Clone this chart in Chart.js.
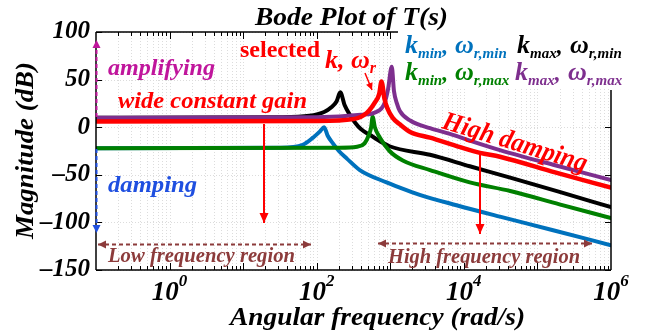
<!DOCTYPE html>
<html>
<head>
<meta charset="utf-8">
<script src="https://cdn.jsdelivr.net/npm/chart.js@4.4.0/dist/chart.umd.min.js"></script>
<style>
  html, body { margin: 0; padding: 0; background: #fff; }
</style>
</head>
<body>
<canvas id="myChart" width="648" height="333"></canvas>
<script>
// angular frequency (rad/s) and magnitude (dB)
var wRed    = [0.1, 100, 316, 479, 617, 708, 759, 832, 912, 1072, 1349, 1862, 3467, 8913, 16596, 30903, 173780, 1e6];
var dbRed   = [6, 6.5, 8.5, 15, 26, 35, 48, 30, 20, 10, 3, -5, -11, -21, -27, -31, -47.5, -63.5];

var wPurple  = [0.1, 100, 398, 646, 832, 933, 1047, 1122, 1230, 1349, 1862, 3467, 6457, 12023, 30903, 173780, 1e6];
var dbPurple = [10, 10.5, 13, 16, 25, 40, 63.5, 38, 25, 17, 7, -1, -7, -14, -24, -40, -55.5];

var wGreen  = [0.1, 200, 355, 447, 513, 550, 575, 617, 724, 977, 1479, 3467, 12023, 42658, 199526, 1e6];
var dbGreen = [-22, -21.5, -20.5, -17, -8, 0, 11, 0, -11, -25, -35, -45, -58, -67, -81, -95.5];

var wBlack  = [0.1, 31.6, 79.4, 126, 158, 186, 209, 240, 282, 331, 398, 525, 977, 3467, 12023, 42658, 199526, 1e6];
var dbBlack = [10, 10.5, 12, 16, 21, 27, 36.6, 23, 13, 5, -2, -8, -20, -29, -41, -53, -68, -84];

var wBlue  = [0.1, 31.6, 64.6, 89.1, 112, 126, 141, 166, 200, 257, 385, 891, 1349, 2512, 7943, 30903, 158489, 1e6];
var dbBlue = [-22, -21.5, -18.5, -11, -4, 0, -9, -17, -25, -33, -45, -58, -63.5, -71, -82, -94, -108, -124];

var yTicks = [100, 50, 0, -50, -100, -150];
var xDecades = [0, 2, 4, 6];

var FONT = '"Liberation Serif", "Times New Roman", serif';
var RED = '#FF0000', BLUE = '#0072BD', GREEN = '#008000', PURPLE = '#7E2F8E';
var MAGENTA = '#C0169C', DBLUE = '#1F4FE0', BROWN = '#8C3B3B';

function pts(w, db) {
  return w.map(function(v, i) { return { x: v, y: db[i] }; });
}

function font(size, upright) {
  return (upright ? '' : 'italic ') + 'bold ' + size + 'px ' + FONT;
}

function line(ctx, x1, y1, x2, y2) {
  ctx.beginPath(); ctx.moveTo(x1, y1); ctx.lineTo(x2, y2); ctx.stroke();
}

// draw text starting at x, stretched to the given width
function fitText(ctx, str, x, y, size, width, color, upright) {
  ctx.font = font(size, upright);
  var m = ctx.measureText(str).width;
  ctx.save();
  ctx.fillStyle = color; ctx.textAlign = 'left'; ctx.textBaseline = 'alphabetic';
  ctx.translate(x, y); ctx.scale(width / m, 1);
  ctx.fillText(str, 0, 0);
  ctx.restore();
}

function head(ctx, x1, y1, x2, y2, len, wid) {
  var a = Math.atan2(y2 - y1, x2 - x1);
  ctx.beginPath();
  ctx.moveTo(x2, y2);
  ctx.lineTo(x2 - len * Math.cos(a) + wid * Math.sin(a), y2 - len * Math.sin(a) - wid * Math.cos(a));
  ctx.lineTo(x2 - len * Math.cos(a) - wid * Math.sin(a), y2 - len * Math.sin(a) + wid * Math.cos(a));
  ctx.closePath(); ctx.fill();
}

function arrow(ctx, x1, y1, x2, y2, color, width, dash, both, len, wid) {
  ctx.save();
  ctx.strokeStyle = color; ctx.fillStyle = color; ctx.lineWidth = width;
  ctx.setLineDash(dash);
  line(ctx, x1, y1, x2, y2);
  ctx.setLineDash([]);
  head(ctx, x1, y1, x2, y2, len, wid);
  if (both) head(ctx, x2, y2, x1, y1, len, wid);
  ctx.restore();
}

// text with subscripts: parts = [[text, size, dy], ...]
function rich(ctx, x, y, parts, color) {
  ctx.fillStyle = color;
  ctx.textAlign = 'left'; ctx.textBaseline = 'alphabetic';
  parts.forEach(function(p) {
    ctx.font = font(p[1]);
    ctx.fillText(p[0], x, y + p[2]);
    x += ctx.measureText(p[0]).width;
  });
  return x;
}

var decor = {
  id: 'decor',
  beforeDatasetsDraw: function(chart) {
    var ctx = chart.ctx, xs = chart.scales.x, ys = chart.scales.y, a = chart.chartArea;
    ctx.save();
    ctx.strokeStyle = '#dcdcdc'; ctx.lineWidth = 1; ctx.setLineDash([1, 2]);
    for (var d = -1; d < 6; d++) {
      for (var m = 1; m < 10; m++) {
        var px = Math.round(xs.getPixelForValue(m * Math.pow(10, d))) + 0.5;
        if (px > a.left + 1 && px < a.right - 1) line(ctx, px, a.top, px, a.bottom);
      }
    }
    yTicks.forEach(function(v) {
      var py = Math.round(ys.getPixelForValue(v)) + 0.5;
      line(ctx, a.left, py, a.right, py);
    });
    ctx.restore();
  },
  afterDraw: function(chart) {
    var ctx = chart.ctx, xs = chart.scales.x, ys = chart.scales.y, a = chart.chartArea;
    ctx.save();

    // legend area
    ctx.fillStyle = '#fff';
    ctx.fillRect(399, 0, 249, 89);

    // frame with inward ticks
    ctx.strokeStyle = '#000'; ctx.lineWidth = 1.5;
    line(ctx, a.left, a.top, a.left, a.bottom);
    line(ctx, a.left, a.bottom, a.right, a.bottom);
    line(ctx, a.left, a.top, 398, a.top);
    line(ctx, a.right, 90, a.right, a.bottom);
    ctx.lineWidth = 1;
    for (var d = -1; d < 6; d++) {
      for (var m = 1; m < 10; m++) {
        var px = Math.round(xs.getPixelForValue(m * Math.pow(10, d))) + 0.5;
        if (px <= a.left + 1 || px >= a.right - 1) continue;
        var L = m === 1 ? 7 : 4;
        line(ctx, px, a.bottom, px, a.bottom - L);
        if (px < 398) line(ctx, px, a.top, px, a.top + L);
      }
    }
    yTicks.forEach(function(v) {
      var py = Math.round(ys.getPixelForValue(v)) + 0.5;
      line(ctx, a.left, py, a.left + 6, py);
      if (py > 90) line(ctx, a.right, py, a.right - 6, py);
    });

    // x tick labels 10^n
    ctx.fillStyle = '#000'; ctx.textBaseline = 'alphabetic'; ctx.textAlign = 'left';
    xDecades.forEach(function(n) {
      var px = xs.getPixelForValue(Math.pow(10, n));
      ctx.font = font(27); var w1 = ctx.measureText('10').width;
      ctx.font = font(17); var w2 = ctx.measureText(String(n)).width;
      var x0 = px - (w1 + w2) / 2;
      ctx.font = font(27); ctx.fillText('10', x0, 300);
      ctx.font = font(17); ctx.fillText(String(n), x0 + w1, 286);
    });

    // titles
    fitText(ctx, 'Bode Plot of T(s)', 255, 25, 25, 193, '#000');
    fitText(ctx, 'Angular frequency (rad/s)', 230, 325, 26, 295, '#000');
    ctx.save();
    ctx.translate(33, 239); ctx.rotate(-Math.PI / 2);
    fitText(ctx, 'Magnitude (dB)', 0, 0, 26, 177, '#000');
    ctx.restore();

    // annotations
    fitText(ctx, 'amplifying', 108, 75, 23, 107, MAGENTA);
    fitText(ctx, 'wide constant gain', 118, 108, 23, 189, RED);
    fitText(ctx, 'damping', 108, 192, 24, 89, DBLUE);
    fitText(ctx, 'selected', 240, 57, 24, 80, RED, true);
    rich(ctx, 325, 68, [['k', 26, 0], [', ', 26, 0], ['\u03c9', 26, 0], ['r', 16, 5]], RED);

    ctx.save();
    ctx.translate(441, 128); ctx.rotate(17 * Math.PI / 180);
    fitText(ctx, 'High damping', 0, 0, 27, 150, RED);
    ctx.restore();

    fitText(ctx, 'Low frequency region', 108, 262, 20, 187, BROWN);
    fitText(ctx, 'High frequency region', 388, 263, 20, 192, BROWN);

    // arrows
    arrow(ctx, 96.5, 117, 96.5, 40, MAGENTA, 2, [4, 3], false, 8, 4);
    arrow(ctx, 96.5, 149, 96.5, 233, DBLUE, 2, [4, 3], false, 8, 4);
    arrow(ctx, 264, 124, 264, 223, RED, 2, [], false, 10, 4.5);
    arrow(ctx, 480, 155, 480, 234, RED, 2, [], false, 10, 4.5);
    arrow(ctx, 365, 73, 372, 90, RED, 1.5, [], false, 7, 3.5);
    arrow(ctx, 98, 244.5, 311, 244.5, BROWN, 2, [4, 3], true, 8, 4);
    arrow(ctx, 378, 243.5, 592, 243.5, BROWN, 2, [4, 3], true, 8, 4);

    // legend
    rich(ctx, 405, 53, [['k', 26, 0], ['min', 15, 5], [',', 24, 0]], BLUE);
    rich(ctx, 455, 53, [['\u03c9', 26, 0], ['r,min', 15, 5]], BLUE);
    rich(ctx, 517, 53, [['k', 26, 0], ['max', 15, 5], [',', 24, 0]], '#000');
    rich(ctx, 570, 53, [['\u03c9', 26, 0], ['r,min', 15, 5]], '#000');
    rich(ctx, 405, 80, [['k', 26, 0], ['min', 15, 5], [',', 24, 0]], GREEN);
    rich(ctx, 455, 80, [['\u03c9', 26, 0], ['r,max', 15, 5]], GREEN);
    rich(ctx, 515, 80, [['k', 26, 0], ['max', 15, 5], [',', 24, 0]], PURPLE);
    rich(ctx, 568, 80, [['\u03c9', 26, 0], ['r,max', 15, 5]], PURPLE);

    ctx.restore();
  }
};

function series(label, w, db, color, width) {
  return {
    label: label,
    data: pts(w, db),
    borderColor: color,
    backgroundColor: color,
    borderWidth: width,
    pointRadius: 0,
    fill: false,
    cubicInterpolationMode: 'monotone',
    borderCapStyle: 'round',
    borderJoinStyle: 'round'
  };
}

var ctx = document.getElementById('myChart');
var myChart = new Chart(ctx, {
  type: 'line',
  data: {
    datasets: [
      series('selected k, wr', wRed, dbRed, RED, 4.5),
      series('kmax, wr,max', wPurple, dbPurple, PURPLE, 4),
      series('kmin, wr,max', wGreen, dbGreen, GREEN, 4),
      series('kmax, wr,min', wBlack, dbBlack, '#000', 4),
      series('kmin, wr,min', wBlue, dbBlue, BLUE, 4)
    ]
  },
  options: {
    responsive: false,
    animation: false,
    layout: { padding: { top: 32, right: 37, left: 0, bottom: 0 } },
    plugins: { legend: { display: false }, tooltip: { enabled: false } },
    scales: {
      x: {
        type: 'logarithmic', min: 0.1, max: 1e6,
        grid: { display: false }, border: { display: false },
        ticks: { display: false },
        afterFit: function(s) { s.height = 63; }
      },
      y: {
        min: -150, max: 100,
        grid: { display: false, drawTicks: false }, border: { display: false },
        ticks: {
          stepSize: 50, padding: 6, color: '#000',
          font: { family: FONT, size: 25, weight: 'bold', style: 'italic' },
          callback: function(v) { return String(v).replace('-', '\u2013'); }
        },
        afterFit: function(s) { s.width = 96; }
      }
    }
  },
  plugins: [decor]
});
</script>
</body>
</html>
